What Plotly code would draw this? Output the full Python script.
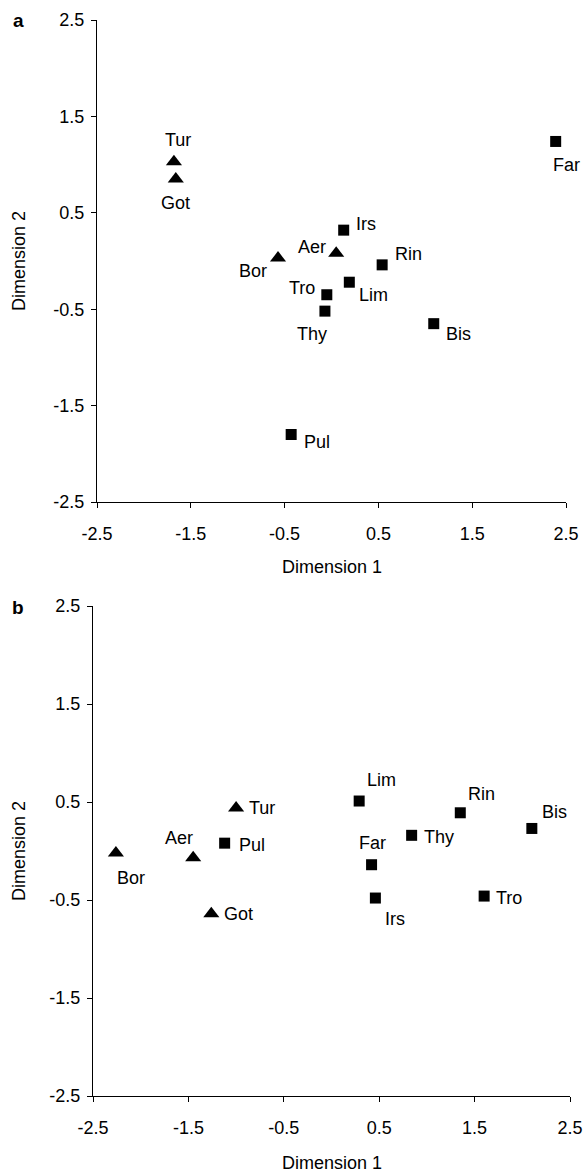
import plotly.graph_objects as go

# ---------------- data ----------------
# Panel a
a_names = ["Tur", "Got", "Bor", "Aer", "Far", "Irs", "Rin", "Lim", "Tro", "Thy", "Bis", "Pul"]
a_x = [-1.68, -1.66, -0.57, 0.05, 2.39, 0.13, 0.54, 0.19, -0.05, -0.07, 1.09, -0.43]
a_y = [1.03, 0.85, 0.03, 0.08, 1.24, 0.32, -0.04, -0.22, -0.35, -0.52, -0.65, -1.80]
a_shape = ["tri", "tri", "tri", "tri", "sq", "sq", "sq", "sq", "sq", "sq", "sq", "sq"]

# Panel b
b_names = ["Bor", "Aer", "Tur", "Got", "Pul", "Lim", "Rin", "Bis", "Thy", "Far", "Irs", "Tro"]
b_x = [-2.26, -1.45, -1.00, -1.26, -1.12, 0.29, 1.35, 2.10, 0.84, 0.42, 0.46, 1.60]
b_y = [-0.02, -0.07, 0.44, -0.64, 0.08, 0.51, 0.39, 0.23, 0.16, -0.14, -0.48, -0.46]
b_shape = ["tri", "tri", "tri", "tri", "sq", "sq", "sq", "sq", "sq", "sq", "sq", "sq"]

tick_vals = [-2.5, -1.5, -0.5, 0.5, 1.5, 2.5]
tick_text = ["-2.5", "-1.5", "-0.5", "0.5", "1.5", "2.5"]

# label placement (anchor, xshift, yshift) – styling only
a_lab = {
    "Tur": ("center", 4, 22), "Got": ("center", 0, -24), "Far": ("left", -5, -24),
    "Irs": ("left", 10, 6), "Aer": ("right", -8, 6), "Bor": ("right", -9, -13),
    "Rin": ("left", 11, 11), "Lim": ("left", 8, -13), "Tro": ("right", -10, 7),
    "Thy": ("center", -13, -23), "Bis": ("left", 10, -10), "Pul": ("left", 11, -7),
}
b_lab = {
    "Bor": ("left", -1, -25), "Aer": ("right", 2, 20), "Tur": ("left", 11, 0),
    "Got": ("left", 11, 0), "Pul": ("left", 12, -2), "Lim": ("left", 6, 21),
    "Rin": ("left", 6, 19), "Bis": ("left", 8, 16), "Thy": ("left", 10, -2),
    "Far": ("center", 1, 22), "Irs": ("left", 8, -21), "Tro": ("left", 10, -2),
}

W, H = 586, 1172
FONT = "Liberation Sans Narrow, Liberation Sans, Arial, sans-serif"
FS = 18

fig = go.Figure()


def add_panel(names, xs, ys, shapes, xa, ya, labs):
    for kind, sym, size in [("tri", "triangle-up", 14), ("sq", "square", 11)]:
        idx = [i for i, s in enumerate(shapes) if s == kind]
        fig.add_trace(go.Scatter(
            x=[xs[i] for i in idx], y=[ys[i] for i in idx],
            mode="markers", xaxis=xa, yaxis=ya,
            marker=dict(symbol=sym, size=size, color="black", line=dict(width=0)),
            showlegend=False, hoverinfo="skip",
        ))
    for n, x, y in zip(names, xs, ys):
        anc, dx, dy = labs[n]
        fig.add_annotation(
            x=x, y=y, xref=xa, yref=ya, text=n, showarrow=False,
            xanchor=anc, yanchor="middle", xshift=dx, yshift=dy,
            font=dict(size=FS, color="black", family=FONT),
        )


add_panel(a_names, a_x, a_y, a_shape, "x", "y", a_lab)
add_panel(b_names, b_x, b_y, b_shape, "x2", "y2", b_lab)

axis_common = dict(
    range=[-2.5, 2.5], tickvals=tick_vals, ticktext=tick_text, automargin=False,
    showline=True, linecolor="black", linewidth=1.2, showgrid=False, zeroline=False,
    ticks="outside", ticklen=5, tickwidth=1.2, tickcolor="black",
    tickfont=dict(size=FS, color="black", family=FONT),
)

a_x0, a_x1, a_top, a_bot = 97, 566, 20, 502
b_x0, b_x1, b_top, b_bot = 93, 570, 606, 1096

fig.update_layout(
    template="none",
    width=W, height=H, margin=dict(l=0, r=0, t=0, b=0, pad=0),
    plot_bgcolor="white", paper_bgcolor="white",
    xaxis=dict(domain=[a_x0 / W, a_x1 / W], anchor="y", ticklabelstandoff=10, **axis_common),
    yaxis=dict(domain=[1 - a_bot / H, 1 - a_top / H], anchor="x", ticklabelstandoff=3, **axis_common),
    xaxis2=dict(domain=[b_x0 / W, b_x1 / W], anchor="y2", ticklabelstandoff=10, **axis_common),
    yaxis2=dict(domain=[1 - b_bot / H, 1 - b_top / H], anchor="x2", ticklabelstandoff=3, **axis_common),
)

# axis titles and panel letters
for txt, x, y, ang in [
    ("Dimension 1", (a_x0 + a_x1) / 2, 567, 0),
    ("Dimension 2", 19, (a_top + a_bot) / 2, -90),
    ("Dimension 1", (b_x0 + b_x1) / 2, 1163, 0),
    ("Dimension 2", 19, (b_top + b_bot) / 2, -90),
]:
    fig.add_annotation(
        x=x / W, y=1 - y / H, xref="paper", yref="paper", text=txt, showarrow=False,
        xanchor="center", yanchor="middle", textangle=ang,
        font=dict(size=FS, color="black", family=FONT),
    )

for txt, y in [("a", 21), ("b", 607)]:
    fig.add_annotation(
        x=18 / W, y=1 - y / H, xref="paper", yref="paper", text="<b>%s</b>" % txt,
        showarrow=False, xanchor="center", yanchor="middle",
        font=dict(size=FS + 1, color="black", family=FONT),
    )

fig.write_html("out.html")
